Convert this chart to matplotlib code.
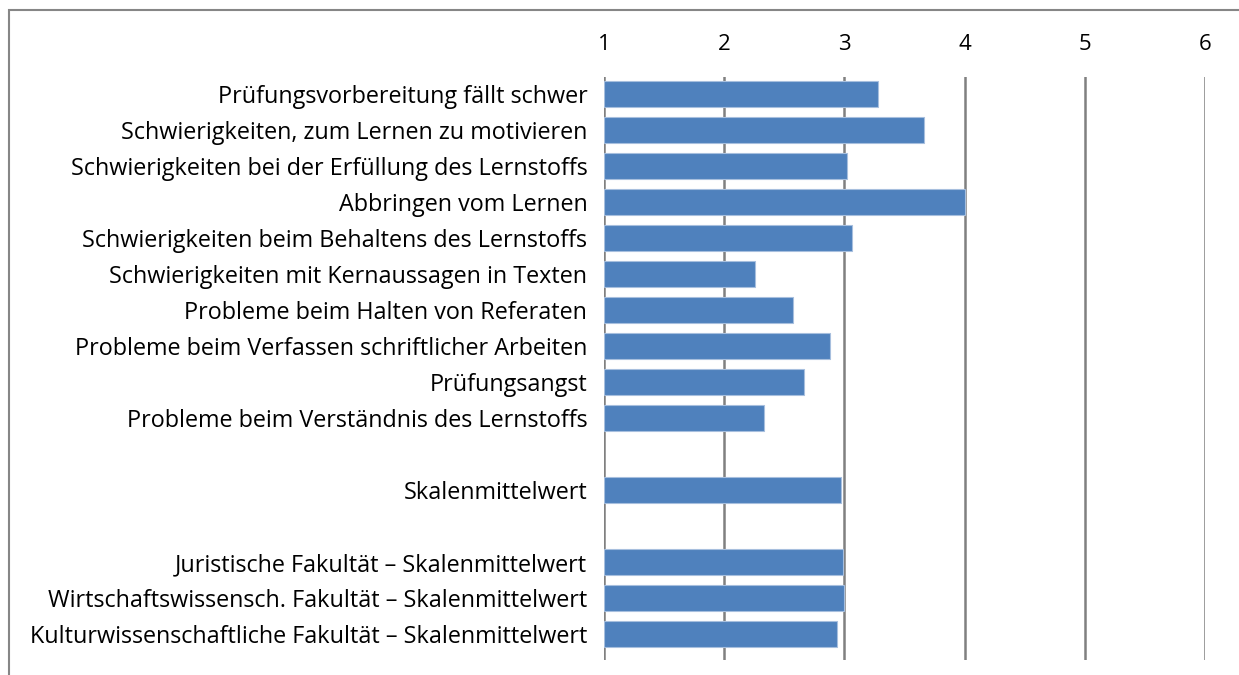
import numpy as np
import matplotlib
matplotlib.use("Agg")
import matplotlib.pyplot as plt
from matplotlib.patches import Rectangle

plt.rcParams['font.family'] = ['Open Sans', 'DejaVu Sans']

# categories from top to bottom, None marks an empty row
labels = [
    "Prüfungsvorbereitung fällt schwer",
    "Schwierigkeiten, zum Lernen zu motivieren",
    "Schwierigkeiten bei der Erfüllung des Lernstoffs",
    "Abbringen vom Lernen",
    "Schwierigkeiten beim Behaltens des Lernstoffs",
    "Schwierigkeiten mit Kernaussagen in Texten",
    "Probleme beim Halten von Referaten",
    "Probleme beim Verfassen schriftlicher Arbeiten",
    "Prüfungsangst",
    "Probleme beim Verständnis des Lernstoffs",
    None,
    "Skalenmittelwert",
    None,
    "Juristische Fakultät – Skalenmittelwert",
    "Wirtschaftswissensch. Fakultät – Skalenmittelwert",
    "Kulturwissenschaftliche Fakultät – Skalenmittelwert",
]
values = [3.28, 3.66, 3.02, 4.00, 3.06, 2.26, 2.57, 2.88, 2.66, 2.33,
          None, 2.97, None, 2.99, 3.00, 2.94]
xticks = [1, 2, 3, 4, 5, 6]

W, H = 1239, 675
fig = plt.figure(figsize=(W / 100, H / 100), dpi=100)

# outer chart border (left and top visible)
fig.patches.append(Rectangle((9 / W, -0.1), 1.2, 1 - 10 / H + 0.1,
                             transform=fig.transFigure, fill=False,
                             edgecolor="#868686", linewidth=1.5))

ax = fig.add_axes([604 / W, 1 - 660 / H, 601 / W, (660 - 77) / H])

rows = np.arange(len(labels))
for r, v in zip(rows, values):
    if v is None:
        continue
    ax.barh(r, v - 1, left=1, height=0.7, color="#4F81BD",
            edgecolor="#A7BFDE", linewidth=0.8, zorder=3)

ax.set_xlim(1, 6)
ax.set_ylim(15 + 26 / 36, -17 / 36)
for t in xticks:
    ax.axvline(t, color="#808080", linewidth=1.8, zorder=2)

ax.xaxis.tick_top()
ax.set_xticks(xticks)
ax.set_xticklabels([str(t) for t in xticks], fontsize=16)
ax.tick_params(axis="x", length=0, pad=16)

ytick_pos = [r for r, l in zip(rows, labels) if l is not None]
ax.set_yticks(ytick_pos)
ax.set_yticklabels([l for l in labels if l is not None], fontsize=16.8)
ax.tick_params(axis="y", length=0, pad=12)

for s in ax.spines.values():
    s.set_visible(False)

fig.savefig("out.png", dpi=100)
